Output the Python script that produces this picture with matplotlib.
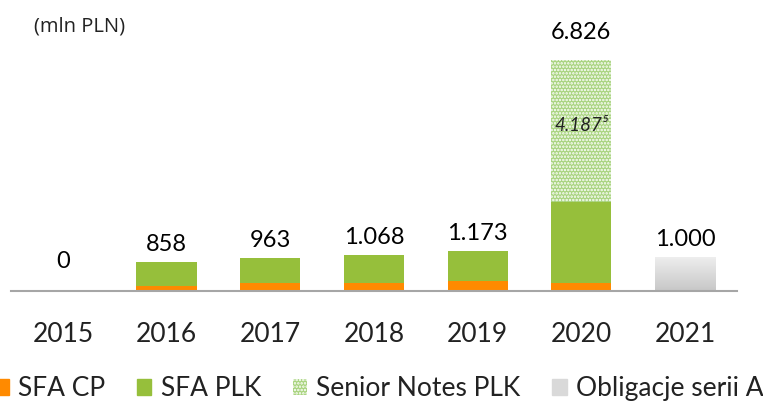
import numpy as np
import matplotlib
matplotlib.use("Agg")
import matplotlib.pyplot as plt
from matplotlib.patches import Patch

# data (mln PLN)
years = ['2015', '2016', '2017', '2018', '2019', '2020', '2021']
sfa_cp = [0, 157, 228, 245, 296, 228, 0]
sfa_plk = [0, 701, 735, 823, 877, 2411, 0]
senior_notes = [0, 0, 0, 0, 0, 4187, 0]
obligacje = [0, 0, 0, 0, 0, 0, 1000]
totals = ['0', '858', '963', '1.068', '1.173', '6.826', '1.000']
senior_label = '4.187'

ORANGE = '#ff8a00'
GREEN = '#96bf3b'
SN_FACE = '#a8d37e'
GREY = '#e2e2e2'

plt.rcParams['font.family'] = ['Lato', 'DejaVu Sans']
plt.rcParams['hatch.linewidth'] = 1.2


def main():
  fig = plt.figure(figsize=(7.63, 4.07), dpi=100)
  ax = fig.add_axes([0.0144, 0.285, 0.9515, 0.715])

  x = np.arange(len(years))
  w = 0.58
  cp = np.array(sfa_cp)
  plk = np.array(sfa_plk)
  sn = np.array(senior_notes)
  ob = np.array(obligacje)

  ax.bar(x, cp, w, color=ORANGE, linewidth=0)
  ax.bar(x, plk, w, bottom=cp, color=GREEN, linewidth=0)
  ax.bar(x, sn, w, bottom=cp + plk, facecolor=SN_FACE, edgecolor='white',
         hatch='.....', linewidth=0)

  # grey gradient bar for Obligacje serii A
  grey_bars = ax.bar(x, ob, w, bottom=cp + plk + sn, color=GREY, linewidth=0)
  grad = np.linspace(0.78, 0.93, 100).reshape(-1, 1)
  for b in grey_bars:
    if b.get_height() > 0:
      x0, y0 = b.get_x(), b.get_y()
      im = ax.imshow(grad, cmap='gray', vmin=0, vmax=1, aspect='auto', origin='lower',
                     extent=[x0, x0 + b.get_width(), y0, y0 + b.get_height()], zorder=2)
      im.set_clip_path(b)

  tops = cp + plk + sn + ob
  for i, lab in enumerate(totals):
    off = 14 if tops[i] == 0 else 5
    if i == 5:
      off = 12
    ax.annotate(lab, (x[i], tops[i]), xytext=(0, off), textcoords='offset points',
                ha='center', va='bottom', fontsize=17, color='black')

  # italic label inside the Senior Notes segment
  i = 5
  mid = cp[i] + plk[i] + sn[i] / 2
  ax.text(x[i], mid + 150, senior_label + '\u2075', ha='center', va='center',
          fontsize=13.5, style='italic', color='#222222')

  ax.set_xlim(-0.5, len(years) - 0.5)
  ax.set_ylim(0, 8600)
  ax.set_xticks(x)
  ax.set_xticklabels(years, fontsize=19, color='#222222')
  ax.tick_params(axis='x', length=0, pad=22)
  ax.set_yticks([])
  for s in ['top', 'right', 'left']:
    ax.spines[s].set_visible(False)
  ax.spines['bottom'].set_color('#a6a6a6')
  ax.spines['bottom'].set_linewidth(1.5)

  fig.text(0.044, 0.935, '(mln PLN)', fontsize=14.5, family=['Open Sans', 'DejaVu Sans'],
           color='#222222', ha='left', va='center')

  handles = [Patch(color=ORANGE, label='SFA CP'),
             Patch(color=GREEN, label='SFA PLK'),
             Patch(facecolor=SN_FACE, edgecolor='white', hatch='.....', linewidth=0,
                   label='Senior Notes PLK'),
             Patch(color='#d9d9d9', label='Obligacje serii A')]
  fig.legend(handles=handles, loc='center', bbox_to_anchor=(0.4966, 0.045), ncol=4,
             frameon=False, fontsize=19, handlelength=0.55, handleheight=0.6,
             handletextpad=0.35, columnspacing=1.2, labelcolor='#222222')

  fig.savefig('out.png', dpi=100)


if __name__ == "__main__":
  main()
